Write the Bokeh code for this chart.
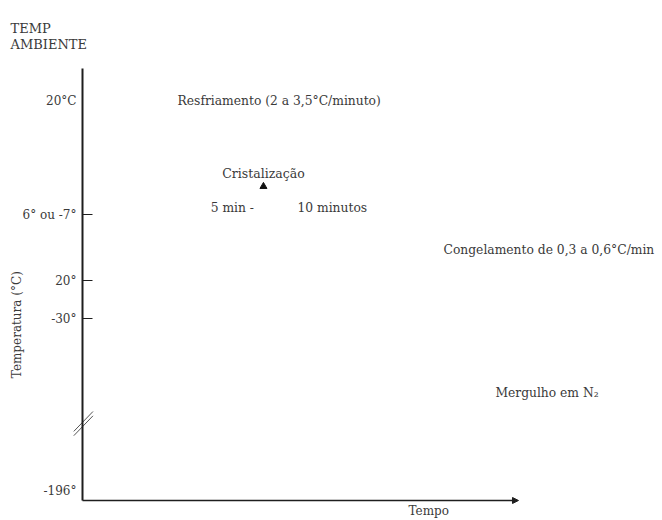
from math import pi
from bokeh.plotting import figure
from bokeh.models import LinearAxis, FixedTicker, Range1d, Arrow, NormalHead
from bokeh.core.properties import value
from bokeh.embed import file_html
from bokeh.resources import INLINE

# ---- data -------------------------------------------------------------
# y: position along the (broken) temperature scale, 0 = bottom, 100 = top
# x: time in arbitrary units, 0 = origin, 100 = end of time axis
tick_pos_marked = [66.2, 50.9, 42.1]
tick_lab_marked = ["6° ou -7°", "20°", "-30°"]
tick_pos_plain = [92.4, 2.3]
tick_lab_plain = ["20°C", "-196°"]
axis_top = 100
time_end = 100
break_pos = 18.0

note_text = ["Resfriamento (2 a 3,5°C/minuto)", "5 min -", "10 minutos",
             "Congelamento de 0,3 a 0,6°C/min", "Mergulho em N\u2082"]
note_x = [21.8, 29.4, 49.3, 82.8, 94.7]
note_y = [92.4, 67.8, 67.8, 58.1, 24.8]

cryst_text = ["Cristalização"]
cryst_x = [41.5]
cryst_y = [75.7]
marker_x = [41.5]
marker_y = [72.7]

corner_text = ["TEMP", "AMBIENTE"]
corner_x = [-16.5, -16.5]
corner_y = [109.3, 105.6]

xlabel = "Tempo"
xlabel_pos = (79.4, -2.4)
ylabel = "Temperatura (°C)"
ylabel_pos = (-15.1, 40.7)

# ---- figure -----------------------------------------------------------
FONT_NAME = "DejaVu Serif"
FONT = value(FONT_NAME)
TXT = "#3a3a3a"
LINE = "#1e1e1e"

p = figure(width=662, height=520, output_backend="svg", toolbar_location=None,
           x_axis_type=None, y_axis_type=None,
           x_range=Range1d(-18.81, 133.03), y_range=Range1d(-4.63, 115.74),
           min_border=0, outline_line_color=None)
p.grid.visible = False
p.background_fill_color = "white"

# y axis with tick marks (inside the frame at time 0)
ax1 = LinearAxis(ticker=FixedTicker(ticks=tick_pos_marked),
                 major_label_overrides={v: l for v, l in zip(tick_pos_marked, tick_lab_marked)},
                 bounds=(0, axis_top), fixed_location=0,
                 major_tick_in=10, major_tick_out=0, minor_tick_line_color=None,
                 axis_line_color=LINE, axis_line_width=2,
                 major_tick_line_color=LINE, major_tick_line_width=1.2,
                 major_label_standoff=6, major_label_text_font=FONT_NAME,
                 major_label_text_font_size="12px", major_label_text_color=TXT)
p.add_layout(ax1, "left")

# plain labels (no tick marks)
ax2 = LinearAxis(ticker=FixedTicker(ticks=tick_pos_plain),
                 major_label_overrides={v: l for v, l in zip(tick_pos_plain, tick_lab_plain)},
                 bounds=(0, axis_top), fixed_location=0,
                 major_tick_in=0, major_tick_out=0, minor_tick_line_color=None,
                 axis_line_color=None, major_tick_line_color=None,
                 major_label_standoff=6, major_label_text_font=FONT_NAME,
                 major_label_text_font_size="12px", major_label_text_color=TXT)
p.add_layout(ax2, "left")

# break in the y axis
p.segment(x0=[-0.6], y0=[break_pos - 1.6], x1=[0.6], y1=[break_pos + 0.4],
          line_color="white", line_width=5)
p.segment(x0=[-2.0, -2.0], y0=[break_pos - 2.0, break_pos - 3.0],
          x1=[2.4, 2.4], y1=[break_pos + 2.6, break_pos + 1.6],
          line_color="#555555", line_width=1)

# time axis with arrow
p.add_layout(Arrow(x_start=0, y_start=0, x_end=time_end, y_end=0,
                   line_color=LINE, line_width=1.6,
                   end=NormalHead(size=6, fill_color=LINE, line_color=LINE)))

# annotations
p.text(x=note_x, y=note_y, text=note_text, text_font=FONT,
       text_font_size="12.3px", text_color=TXT, text_baseline="middle",
       text_align="left")
p.text(x=cryst_x, y=cryst_y, text=cryst_text, text_font=FONT,
       text_font_size="12.5px", text_color=TXT, text_baseline="middle",
       text_align="center")
p.scatter(x=marker_x, y=marker_y, marker="triangle", size=7,
          fill_color="#111111", line_color="#111111")
p.text(x=corner_x, y=corner_y, text=corner_text, text_font=FONT,
       text_font_size="13px", text_color=TXT, text_baseline="middle",
       text_align="left")

# axis titles
p.text(x=[xlabel_pos[0]], y=[xlabel_pos[1]], text=[xlabel], text_font=FONT,
       text_font_size="12px", text_color=TXT, text_baseline="middle",
       text_align="center")
p.text(x=[ylabel_pos[0]], y=[ylabel_pos[1]], text=[ylabel], text_font=FONT,
       text_font_size="12px", text_color=TXT, text_baseline="middle",
       text_align="center", angle=pi / 2)

open("out.html", "w").write(file_html(p, INLINE))
